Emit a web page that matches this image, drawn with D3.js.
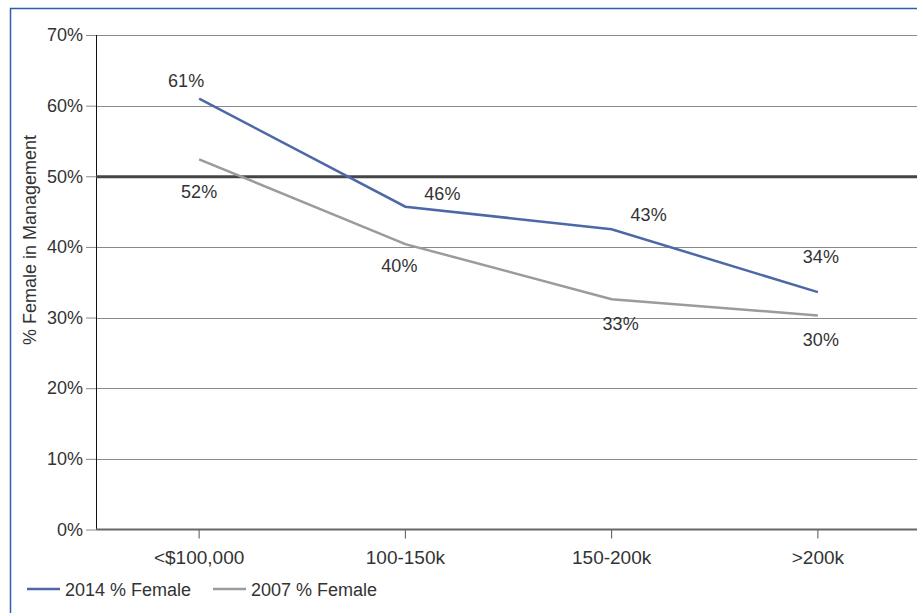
<!DOCTYPE html>
<html>
<head>
<meta charset="utf-8">
<script src="https://cdn.jsdelivr.net/npm/d3@7"></script>
<style>
  html, body { margin: 0; padding: 0; background: #fff; }
  svg { display: block; }
  text { font-family: "Liberation Sans", Arial, sans-serif; fill: #333; }
</style>
</head>
<body>
<svg id="chart" width="917" height="613"></svg>
<script>
// ---- data ----
const categories = ["<$100,000", "100-150k", "150-200k", ">200k"];
const series2014 = [61.0, 45.7, 42.5, 33.6];
const series2007 = [52.4, 40.4, 32.6, 30.3];
const seriesNames = ["2014 % Female", "2007 % Female"];
const yTicks = [0, 10, 20, 30, 40, 50, 60, 70];
const referenceLine = 50;

// ---- layout (label offsets relative to each point) ----
const labelOffsets2014 = [[-13, -12], [37, -7], [37, -8], [3, -29]];
const labelOffsets2007 = [[0, 39], [-6, 28], [9, 31], [3, 31]];

(function () {
const svg = d3.select("#chart");
const W = 917, H = 613;
const mLeft = 96, mRight = 921, mTop = 35, mBottom = 529.5;

// frame
svg.append("rect")
  .attr("x", 10.5).attr("y", 8.5)
  .attr("width", 1000).attr("height", 1000)
  .attr("fill", "none").attr("stroke", "#2f5fa8").attr("stroke-width", 1.5);

const x = d3.scaleBand().domain(categories).range([mLeft, mRight]);
const y = d3.scaleLinear().domain([0, 70]).range([mBottom, mTop]);
const cx = c => x(c) + x.bandwidth() / 2;

// gridlines
svg.append("g").selectAll("line")
  .data(yTicks.filter(t => t !== 0 && t !== referenceLine))
  .join("line")
  .attr("x1", mLeft).attr("x2", W)
  .attr("y1", d => Math.round(y(d)) + 0.5).attr("y2", d => Math.round(y(d)) + 0.5)
  .attr("stroke", "#8a8a8a").attr("stroke-width", 1);

// y axis
const yAxis = d3.axisLeft(y).tickValues(yTicks).tickFormat(d => d + "%").tickSize(10).tickPadding(3);
const gy = svg.append("g").attr("transform", `translate(${mLeft},0)`).call(yAxis);
gy.select(".domain").remove();
gy.selectAll(".tick line").attr("stroke", "#8a8a8a");
gy.selectAll(".tick text")
  .style("font-family", '"Liberation Sans", Arial, sans-serif')
  .style("font-size", "18px").attr("fill", "#333");
svg.append("line")
  .attr("x1", mLeft + 0.5).attr("x2", mLeft + 0.5)
  .attr("y1", mTop).attr("y2", mBottom)
  .attr("stroke", "#111").attr("stroke-width", 1);

// reference 50% line
svg.append("line")
  .attr("x1", mLeft).attr("x2", W)
  .attr("y1", y(referenceLine) + 0.5).attr("y2", y(referenceLine) + 0.5)
  .attr("stroke", "#454545").attr("stroke-width", 3);

// x axis
const xAxis = d3.axisBottom(x).tickSize(9).tickPadding(12);
const gx = svg.append("g").attr("transform", `translate(0,${mBottom})`).call(xAxis);
gx.select(".domain").remove();
gx.selectAll(".tick line").attr("stroke", "#555");
gx.selectAll(".tick text")
  .style("font-family", '"Liberation Sans", Arial, sans-serif')
  .style("font-size", "19px").attr("fill", "#333");
svg.append("line")
  .attr("x1", mLeft).attr("x2", W)
  .attr("y1", mBottom).attr("y2", mBottom)
  .attr("stroke", "#666").attr("stroke-width", 2);

// lines
const line = d3.line().x((d, i) => cx(categories[i])).y(d => y(d));
const seriesDefs = [
  { values: series2014, color: "#4d68a7", offsets: labelOffsets2014 },
  { values: series2007, color: "#9b9b9b", offsets: labelOffsets2007 }
];
seriesDefs.forEach(s => {
  svg.append("path").datum(s.values)
    .attr("d", line).attr("fill", "none")
    .attr("stroke", s.color).attr("stroke-width", 2.5);
  svg.append("g").selectAll("text").data(s.values).join("text")
    .attr("x", (d, i) => cx(categories[i]) + s.offsets[i][0])
    .attr("y", (d, i) => y(d) + s.offsets[i][1])
    .attr("text-anchor", "middle")
    .style("font-size", "18px")
    .text(d => Math.round(d) + "%");
});

// y axis title
svg.append("text")
  .attr("transform", `translate(36,240) rotate(-90)`)
  .attr("text-anchor", "middle")
  .style("font-size", "18px")
  .text("% Female in Management");

// legend
const legendX = [27, 213];
seriesNames.forEach((name, i) => {
  svg.append("line")
    .attr("x1", legendX[i]).attr("x2", legendX[i] + 33)
    .attr("y1", 589).attr("y2", 589)
    .attr("stroke", seriesDefs[i].color).attr("stroke-width", 2.5);
  svg.append("text")
    .attr("x", legendX[i] + 38).attr("y", 596)
    .style("font-size", "18px")
    .text(name);
});
})();
</script>
</body>
</html>
